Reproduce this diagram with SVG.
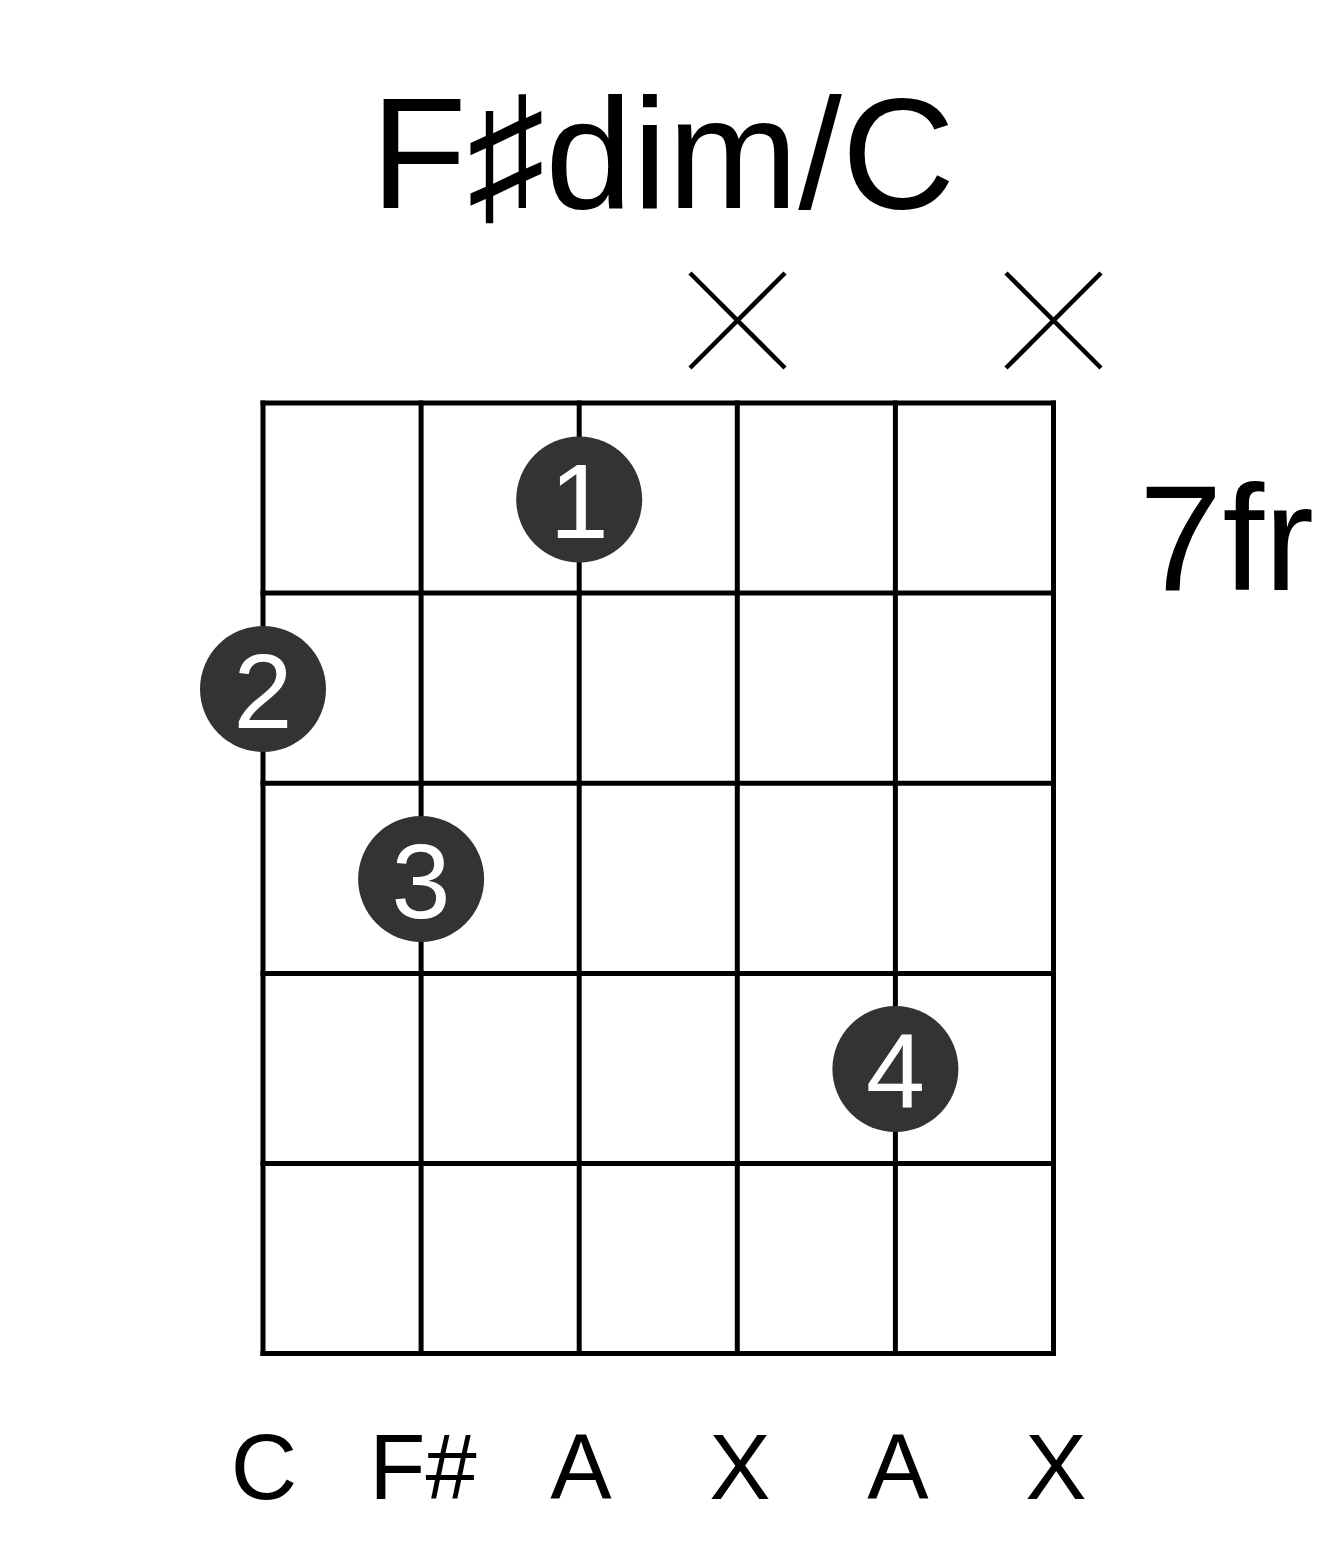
<svg xmlns="http://www.w3.org/2000/svg" width="1317" height="1551" viewBox="0 0 1317 1551">
<style>
.grid line{stroke:#000;stroke-width:5;stroke-linecap:square}
.mute line{stroke:#000;stroke-width:4.5}
.dot{fill:#333}
.fn{fill:#fff;font-family:"Liberation Sans",Arial,sans-serif;font-size:106px;text-anchor:middle}
.lbl{fill:#000;font-family:"Liberation Sans",Arial,sans-serif;font-size:92px;text-anchor:middle}
.title{fill:#000;font-family:"Liberation Sans","DejaVu Sans",sans-serif;font-size:157px;text-anchor:middle}
.fr{fill:#000;font-family:"Liberation Sans",Arial,sans-serif;font-size:150px}
</style>
<rect width="1317" height="1551" fill="#fff"/>
<text id="title" class="title" x="663" y="208">F♯dim/C</text>
<g id="grid" class="grid">
<line x1="263" y1="403" x2="1053.5" y2="403"/>
<line x1="263" y1="593" x2="1053.5" y2="593"/>
<line x1="263" y1="783.2" x2="1053.5" y2="783.2"/>
<line x1="263" y1="973.4" x2="1053.5" y2="973.4"/>
<line x1="263" y1="1163.5" x2="1053.5" y2="1163.5"/>
<line x1="263" y1="1353.5" x2="1053.5" y2="1353.5"/>
<line x1="263" y1="403" x2="263" y2="1353.5"/>
<line x1="421.1" y1="403" x2="421.1" y2="1353.5"/>
<line x1="579.2" y1="403" x2="579.2" y2="1353.5"/>
<line x1="737.3" y1="403" x2="737.3" y2="1353.5"/>
<line x1="895.4" y1="403" x2="895.4" y2="1353.5"/>
<line x1="1053.5" y1="403" x2="1053.5" y2="1353.5"/>
</g>
<g id="mute-4" class="mute">
<line x1="690" y1="273" x2="785" y2="368"/>
<line x1="785" y1="273" x2="690" y2="368"/>
</g>
<g id="mute-6" class="mute">
<line x1="1006" y1="273" x2="1101" y2="368"/>
<line x1="1101" y1="273" x2="1006" y2="368"/>
</g>
<text id="fret" class="fr" x="1139" y="590">7fr</text>
<g id="finger-1">
<circle class="dot" cx="579.2" cy="499.5" r="63"/>
<text class="fn" x="579.2" y="538">1</text>
</g>
<g id="finger-2">
<circle class="dot" cx="263" cy="689" r="63"/>
<text class="fn" x="263" y="727.5">2</text>
</g>
<g id="finger-3">
<circle class="dot" cx="421.1" cy="879" r="63"/>
<text class="fn" x="421.1" y="917.5">3</text>
</g>
<g id="finger-4">
<circle class="dot" cx="895.4" cy="1069" r="63"/>
<text class="fn" x="895.4" y="1107.5">4</text>
</g>
<g id="string-labels">
<text class="lbl" x="264" y="1499">C</text>
<text class="lbl" x="423" y="1499">F#</text>
<text class="lbl" x="581" y="1499">A</text>
<text class="lbl" x="740" y="1499">X</text>
<text class="lbl" x="898" y="1499">A</text>
<text class="lbl" x="1056" y="1499">X</text>
</g>
</svg>
